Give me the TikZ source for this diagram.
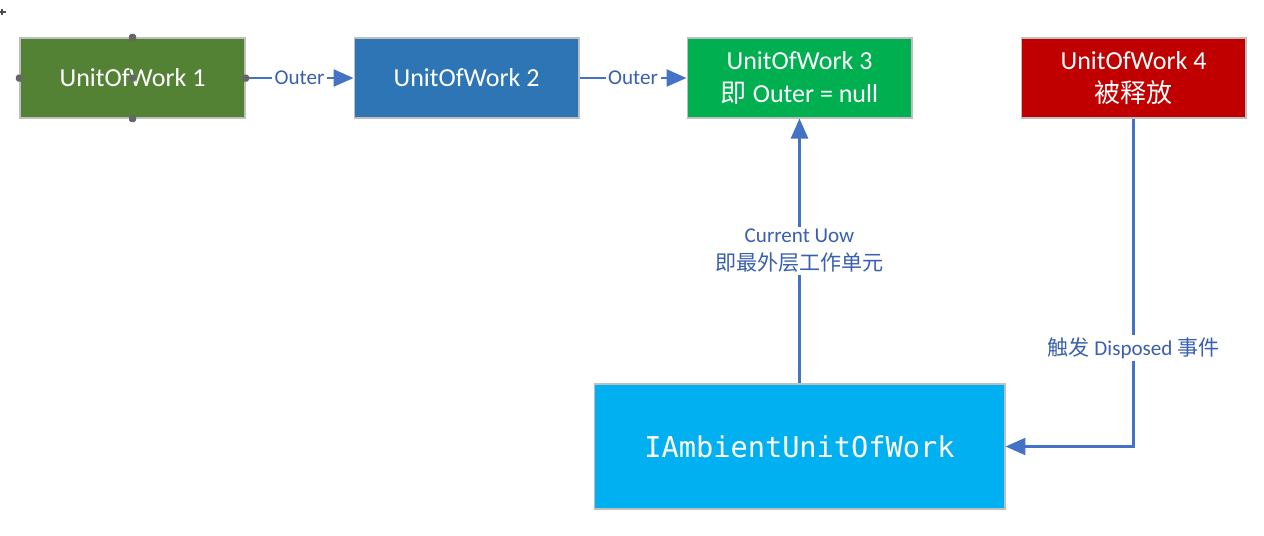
\documentclass[tikz,border=0pt]{standalone}
\usepackage{fontspec}
\setmainfont{Carlito}
\setmonofont{DejaVu Sans Mono}
\newfontfamily\cjk{Noto Sans CJK SC}
\usetikzlibrary{arrows.meta}
\definecolor{uowgreen}{HTML}{548235}
\definecolor{uowblue}{HTML}{2E75B6}
\definecolor{uowlime}{HTML}{00B050}
\definecolor{uowred}{HTML}{C00000}
\definecolor{ambientblue}{HTML}{00B0F0}
\definecolor{boxborder}{HTML}{BFBFBF}
\definecolor{linkblue}{HTML}{4472C4}
\definecolor{labelblue}{HTML}{3A5FAF}

\begin{document}
\begin{tikzpicture}[x=0.02cm, y=-0.02cm,
    uow/.style={draw=boxborder, line width=0.6pt, text=white, minimum width=4.5cm, minimum height=1.6cm, inner sep=0pt, align=center, font=\fontsize{14.8}{19}\selectfont},
    link/.style={draw=linkblue, line width=1.4pt, -{Triangle[length=0.4cm, width=0.34cm]}},
    lbl/.style={fill=white, text=labelblue, inner sep=1.5pt, align=center, font=\fontsize{12}{16}\selectfont},
    handle/.style={fill=black!60, rounded corners=1pt, minimum size=0.14cm, inner sep=0pt}]
      \useasboundingbox (0,0) rectangle (1264,535);
      \node [uow, fill=uowgreen] (uow1) at (132.5,78) {UnitOfWork 1};
      \node [uow, fill=uowblue] (uow2) at (466.5,78) {UnitOfWork 2};
      \node [uow, fill=uowlime] (uow3) at (799.5,78) {UnitOfWork 3\\{\cjk 即} Outer = null};
      \node [uow, fill=uowred] (uow4) at (1133.5,78) {UnitOfWork 4\\{\cjk 被释放}};
      \node [uow, fill=ambientblue, minimum width=8.22cm, minimum height=2.5cm, font=\ttfamily\fontsize{16.3}{20}\selectfont] (ambient) at (799.5,446.5) {IAmbientUnitOfWork};
      \draw [link] (uow1) -- node [lbl] {Outer} (uow2);
      \draw [link] (uow2) -- node [lbl] {Outer} (uow3);
      \draw [link] (ambient.north) -- node [lbl] {Current Uow\\{\cjk 即最外层工作单元}} (uow3.south);
      \draw [link] (uow4.south) |- node [lbl, pos=0.35] {{\cjk 触发} Disposed {\cjk 事件}} (ambient.east);
      \node [handle] (h1) at (uow1.west) {};
      \node [handle] (h2) at (uow1.east) {};
      \node [handle] (h3) at (uow1.north) {};
      \node [handle] (h4) at (uow1.south) {};
      \node [handle] (h5) at (uow1.center) {};
      \draw [black!70, line width=0.6pt] (0,12) -- (6,12) (2,9) -- (2,15);
    \end{tikzpicture}
\end{document}
